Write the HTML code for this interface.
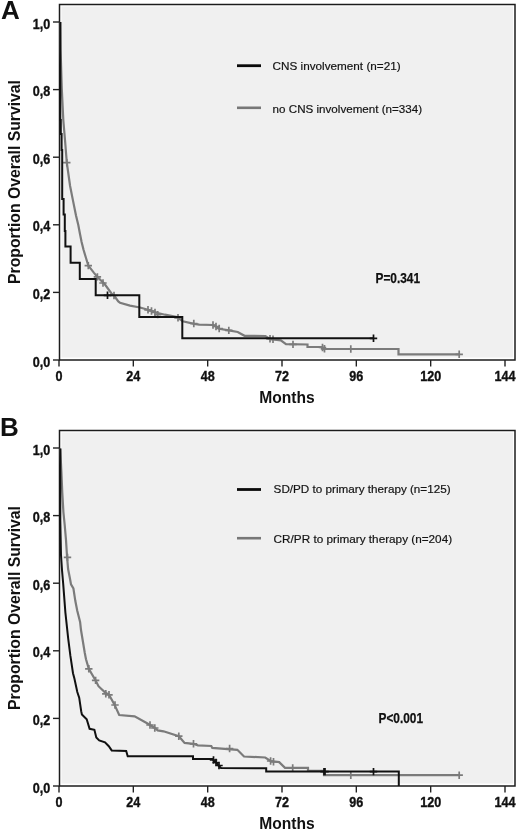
<!DOCTYPE html>
<html><head><meta charset="utf-8"><style>
html,body{margin:0;padding:0;background:#fff;}
svg{display:block;filter:grayscale(1);}
text{font-family:"Liberation Sans", sans-serif;fill:#111;}
</style></head><body>
<svg width="520" height="833" viewBox="0 0 520 833">
<rect width="520" height="833" fill="#fff"/>
<rect x="59" y="4" width="456" height="356" fill="#fff" stroke="none"/>
<rect x="61.5" y="6.5" width="451.5" height="351" fill="#f0f0f0"/>
<rect x="59.5" y="4.5" width="455.5" height="355.5" fill="none" stroke="#1c1c1c" stroke-width="1.5"/>
<path d="M53,360H60" stroke="#222" stroke-width="1.4"/>
<text transform="translate(50.3,366.6) scale(0.9,1)" text-anchor="end" font-weight="bold" font-size="14" stroke="#111" stroke-width="0.35">0,0</text>
<path d="M53,292.4H60" stroke="#222" stroke-width="1.4"/>
<text transform="translate(50.3,299) scale(0.9,1)" text-anchor="end" font-weight="bold" font-size="14" stroke="#111" stroke-width="0.35">0,2</text>
<path d="M53,224.8H60" stroke="#222" stroke-width="1.4"/>
<text transform="translate(50.3,231.4) scale(0.9,1)" text-anchor="end" font-weight="bold" font-size="14" stroke="#111" stroke-width="0.35">0,4</text>
<path d="M53,157.2H60" stroke="#222" stroke-width="1.4"/>
<text transform="translate(50.3,163.8) scale(0.9,1)" text-anchor="end" font-weight="bold" font-size="14" stroke="#111" stroke-width="0.35">0,6</text>
<path d="M53,89.6H60" stroke="#222" stroke-width="1.4"/>
<text transform="translate(50.3,96.2) scale(0.9,1)" text-anchor="end" font-weight="bold" font-size="14" stroke="#111" stroke-width="0.35">0,8</text>
<path d="M53,22H60" stroke="#222" stroke-width="1.4"/>
<text transform="translate(50.3,28.6) scale(0.9,1)" text-anchor="end" font-weight="bold" font-size="14" stroke="#111" stroke-width="0.35">1,0</text>
<path d="M59,360V366.5" stroke="#222" stroke-width="1.4"/>
<text transform="translate(59,381) scale(0.9,1)" text-anchor="middle" font-weight="bold" font-size="14" stroke="#111" stroke-width="0.35">0</text>
<path d="M133.33,360V366.5" stroke="#222" stroke-width="1.4"/>
<text transform="translate(133.33,381) scale(0.9,1)" text-anchor="middle" font-weight="bold" font-size="14" stroke="#111" stroke-width="0.35">24</text>
<path d="M207.67,360V366.5" stroke="#222" stroke-width="1.4"/>
<text transform="translate(207.67,381) scale(0.9,1)" text-anchor="middle" font-weight="bold" font-size="14" stroke="#111" stroke-width="0.35">48</text>
<path d="M282,360V366.5" stroke="#222" stroke-width="1.4"/>
<text transform="translate(282,381) scale(0.9,1)" text-anchor="middle" font-weight="bold" font-size="14" stroke="#111" stroke-width="0.35">72</text>
<path d="M356.33,360V366.5" stroke="#222" stroke-width="1.4"/>
<text transform="translate(356.33,381) scale(0.9,1)" text-anchor="middle" font-weight="bold" font-size="14" stroke="#111" stroke-width="0.35">96</text>
<path d="M430.67,360V366.5" stroke="#222" stroke-width="1.4"/>
<text transform="translate(430.67,381) scale(0.9,1)" text-anchor="middle" font-weight="bold" font-size="14" stroke="#111" stroke-width="0.35">120</text>
<path d="M505,360V366.5" stroke="#222" stroke-width="1.4"/>
<text transform="translate(505,381) scale(0.9,1)" text-anchor="middle" font-weight="bold" font-size="14" stroke="#111" stroke-width="0.35">144</text>
<text x="287" y="402.5" text-anchor="middle" font-weight="bold" font-size="15.6">Months</text>
<text transform="translate(19.8,182) rotate(-90)" x="0" y="0" text-anchor="middle" font-weight="bold" font-size="16" textLength="204" lengthAdjust="spacingAndGlyphs">Proportion Overall Survival</text>
<text x="1" y="19.3" font-weight="bold" font-size="26">A</text>
<path d="M237,65.7H261" stroke="#0a0a0a" stroke-width="2.8"/>
<path d="M237,107.8H261" stroke="#777" stroke-width="2.6"/>
<text x="272.6" y="69.6" font-size="11.6" fill="#1a1a1a" stroke="#1a1a1a" stroke-width="0.2" textLength="128" lengthAdjust="spacingAndGlyphs">CNS involvement (n=21)</text>
<text x="272.6" y="112.5" font-size="11.6" fill="#1a1a1a" stroke="#1a1a1a" stroke-width="0.2" textLength="149.5" lengthAdjust="spacingAndGlyphs">no CNS involvement (n=334)</text>
<text x="375.5" y="283.2" font-weight="bold" font-size="14" stroke="#111" stroke-width="0.25" textLength="44.5" lengthAdjust="spacingAndGlyphs">P=0.341</text>
<polyline points="60.3,22 60.6,50 61.8,89 63.3,120 65,140 66.8,162.7 70.1,186 72.6,198.6 76,215.4 78.3,225 80,234 81.6,242 83.6,250 86,258 88.3,265.6 93.8,272.6 97.4,276.9 100.5,280 104.6,284 111.5,293.5 114,295.5 118.3,301.5 120,302.7 130,305.6 140,307.5 148,309.8 157.7,313 165,314.7 170,315.6 177,317 182.7,321.3 194.2,323.8 199.2,324.7 213,325 216,326.5 219.2,328.8 228.8,330.4 237.7,332 244.6,335.8 265.4,336 270,339 273,339.5 280.8,340.4 286,344.2 307.5,344.5 307.5,347 322,347 324,349 398.5,349 398.5,354.3 459.5,354.3" fill="none" stroke="#7b7b7b" stroke-width="2.2" stroke-linejoin="miter"/>
<path d="M66.8,159V166.4M63.1,162.7H70.5M88.3,261.9V269.3M84.6,265.6H92M97.4,273.2V280.6M93.7,276.9H101.1M103,279.3V286.7M99.3,283H106.7M114,291.8V299.2M110.3,295.5H117.7M148,306.1V313.5M144.3,309.8H151.7M151.5,307.3V314.7M147.8,311H155.2M155,308.8V316.2M151.3,312.5H158.7M157.7,310.9V318.3M154,314.6H161.4M178,314.1V321.5M174.3,317.8H181.7M193.8,319.8V327.2M190.1,323.5H197.5M213,321.3V328.7M209.3,325H216.7M216,322.8V330.2M212.3,326.5H219.7M219.2,324.8V332.2M215.5,328.5H222.9M228.8,326.7V334.1M225.1,330.4H232.5M270,335.1V342.5M266.3,338.8H273.7M273,335.6V343M269.3,339.3H276.7M293,340.7V348.1M289.3,344.4H296.7M322.5,343.8V351.2M318.8,347.5H326.2M324.5,345.1V352.5M320.8,348.8H328.2M350.8,345.3V352.7M347.1,349H354.5M459.2,350.6V358M455.5,354.3H462.9" stroke="#7b7b7b" stroke-width="1.7" fill="none"/>
<polyline points="60.3,22 60.3,120 60.8,120 60.8,134 61.6,134 61.6,150 62.2,150 62.2,199 63.6,199 63.6,214.5 64.8,214.5 64.8,231 65.4,231 65.4,246.5 70.6,246.5 70.6,262.8 79.8,262.8 79.8,279 95.7,279 95.7,295.3 139.3,295.3 139.3,317 182.3,317 182.3,338.3 373.5,338.3" fill="none" stroke="#111" stroke-width="2" stroke-linejoin="miter"/>
<path d="M107.5,291.6V299M103.8,295.3H111.2M373.5,334.6V342M369.8,338.3H377.2" stroke="#111" stroke-width="1.7" fill="none"/>
<rect x="59" y="430" width="456" height="356" fill="#fff" stroke="none"/>
<rect x="61.5" y="432.5" width="451.5" height="351" fill="#f0f0f0"/>
<rect x="59.5" y="430.5" width="455.5" height="355.5" fill="none" stroke="#1c1c1c" stroke-width="1.5"/>
<path d="M53,786H60" stroke="#222" stroke-width="1.4"/>
<text transform="translate(50.3,792.6) scale(0.9,1)" text-anchor="end" font-weight="bold" font-size="14" stroke="#111" stroke-width="0.35">0,0</text>
<path d="M53,718.4H60" stroke="#222" stroke-width="1.4"/>
<text transform="translate(50.3,725) scale(0.9,1)" text-anchor="end" font-weight="bold" font-size="14" stroke="#111" stroke-width="0.35">0,2</text>
<path d="M53,650.8H60" stroke="#222" stroke-width="1.4"/>
<text transform="translate(50.3,657.4) scale(0.9,1)" text-anchor="end" font-weight="bold" font-size="14" stroke="#111" stroke-width="0.35">0,4</text>
<path d="M53,583.2H60" stroke="#222" stroke-width="1.4"/>
<text transform="translate(50.3,589.8) scale(0.9,1)" text-anchor="end" font-weight="bold" font-size="14" stroke="#111" stroke-width="0.35">0,6</text>
<path d="M53,515.6H60" stroke="#222" stroke-width="1.4"/>
<text transform="translate(50.3,522.2) scale(0.9,1)" text-anchor="end" font-weight="bold" font-size="14" stroke="#111" stroke-width="0.35">0,8</text>
<path d="M53,448H60" stroke="#222" stroke-width="1.4"/>
<text transform="translate(50.3,454.6) scale(0.9,1)" text-anchor="end" font-weight="bold" font-size="14" stroke="#111" stroke-width="0.35">1,0</text>
<path d="M59,786V792.5" stroke="#222" stroke-width="1.4"/>
<text transform="translate(59,807) scale(0.9,1)" text-anchor="middle" font-weight="bold" font-size="14" stroke="#111" stroke-width="0.35">0</text>
<path d="M133.33,786V792.5" stroke="#222" stroke-width="1.4"/>
<text transform="translate(133.33,807) scale(0.9,1)" text-anchor="middle" font-weight="bold" font-size="14" stroke="#111" stroke-width="0.35">24</text>
<path d="M207.67,786V792.5" stroke="#222" stroke-width="1.4"/>
<text transform="translate(207.67,807) scale(0.9,1)" text-anchor="middle" font-weight="bold" font-size="14" stroke="#111" stroke-width="0.35">48</text>
<path d="M282,786V792.5" stroke="#222" stroke-width="1.4"/>
<text transform="translate(282,807) scale(0.9,1)" text-anchor="middle" font-weight="bold" font-size="14" stroke="#111" stroke-width="0.35">72</text>
<path d="M356.33,786V792.5" stroke="#222" stroke-width="1.4"/>
<text transform="translate(356.33,807) scale(0.9,1)" text-anchor="middle" font-weight="bold" font-size="14" stroke="#111" stroke-width="0.35">96</text>
<path d="M430.67,786V792.5" stroke="#222" stroke-width="1.4"/>
<text transform="translate(430.67,807) scale(0.9,1)" text-anchor="middle" font-weight="bold" font-size="14" stroke="#111" stroke-width="0.35">120</text>
<path d="M505,786V792.5" stroke="#222" stroke-width="1.4"/>
<text transform="translate(505,807) scale(0.9,1)" text-anchor="middle" font-weight="bold" font-size="14" stroke="#111" stroke-width="0.35">144</text>
<text x="287" y="828.5" text-anchor="middle" font-weight="bold" font-size="15.6">Months</text>
<text transform="translate(19.8,608) rotate(-90)" x="0" y="0" text-anchor="middle" font-weight="bold" font-size="16" textLength="204" lengthAdjust="spacingAndGlyphs">Proportion Overall Survival</text>
<text x="0" y="435.6" font-weight="bold" font-size="26">B</text>
<path d="M237,489.5H261" stroke="#0a0a0a" stroke-width="2.8"/>
<path d="M237,538.2H261" stroke="#777" stroke-width="2.6"/>
<text x="273.6" y="492.6" font-size="11.6" fill="#1a1a1a" stroke="#1a1a1a" stroke-width="0.2" textLength="177" lengthAdjust="spacingAndGlyphs">SD/PD to primary therapy (n=125)</text>
<text x="273.6" y="543" font-size="11.6" fill="#1a1a1a" stroke="#1a1a1a" stroke-width="0.2" textLength="178.5" lengthAdjust="spacingAndGlyphs">CR/PR to primary therapy (n=204)</text>
<text x="378.5" y="722.6" font-weight="bold" font-size="14" stroke="#111" stroke-width="0.25" textLength="44.5" lengthAdjust="spacingAndGlyphs">P&lt;0.001</text>
<polyline points="60.3,448.5 60.8,460 61.4,472 62.3,493 63.4,512 64.7,525 66,540 67.1,557.5 68.1,569 70,578.7 71,584.4 73.4,588.3 75.3,600.8 77.2,610.4 80.1,622 81,630 84.8,653 86,659.2 88.8,668.8 95.6,680.4 98.5,686.2 105.2,692.5 109,694.8 114.4,704.4 119.2,715 134.6,716.3 146.2,722.7 150,725 154.8,728 157.7,730.4 163.5,731.3 178.8,736.2 184.6,742.9 193.3,743.8 197.9,745.4 211.3,746 212.3,747.9 237.3,749.8 244,756.5 265.2,757.5 270.6,761 279.2,762.1 285,767.9 308,767.9 308,770.8 324,770.8 324,775.2 459.5,775.2" fill="none" stroke="#7b7b7b" stroke-width="2.2" stroke-linejoin="miter"/>
<path d="M67.5,553.7V561.1M63.8,557.4H71.2M88.8,665.1V672.5M85.1,668.8H92.5M95.6,676.7V684.1M91.9,680.4H99.3M105.8,690.1V697.5M102.1,693.8H109.5M109,691.1V698.5M105.3,694.8H112.7M115,701.3V708.7M111.3,705H118.7M150,721.3V728.7M146.3,725H153.7M154.8,724.3V731.7M151.1,728H158.5M178.8,732.5V739.9M175.1,736.2H182.5M193.5,740.1V747.5M189.8,743.8H197.2M229.6,744.8V752.2M225.9,748.5H233.3M270.6,757.3V764.7M266.9,761H274.3M273.5,758.1V765.5M269.8,761.8H277.2M292.7,764.2V771.6M289,767.9H296.4M350.8,771.5V778.9M347.1,775.2H354.5M459.2,771.5V778.9M455.5,775.2H462.9" stroke="#7b7b7b" stroke-width="1.7" fill="none"/>
<polyline points="60.3,448.5 60.3,520 61,555 62,570 63.2,583.8 65.4,612.6 68.2,638.6 70.4,655.9 73,673.2 74.4,678.5 77.3,692 79.2,697.7 81.2,711.2 81.9,714.4 86.7,719.2 89.6,728.8 94.4,729.8 96.3,737.5 99.2,740.4 105,742.3 108.8,746.2 111.7,750.4 126.2,751 127.7,756.2 193,756.2 193,759 212.7,759 214,761 216,762 218,765 221,768 266.2,768.3 266.2,771.6 398.8,771.6 398.8,786" fill="none" stroke="#111" stroke-width="2" stroke-linejoin="miter"/>
<path d="M213.5,756.3V763.7M209.8,760H217.2M216,758.8V766.2M212.3,762.5H219.7M219,761.8V769.2M215.3,765.5H222.7M324,767.9V775.3M320.3,771.6H327.7M325,767.9V775.3M321.3,771.6H328.7M373.5,767.9V775.3M369.8,771.6H377.2" stroke="#111" stroke-width="1.7" fill="none"/>
</svg>
</body></html>
